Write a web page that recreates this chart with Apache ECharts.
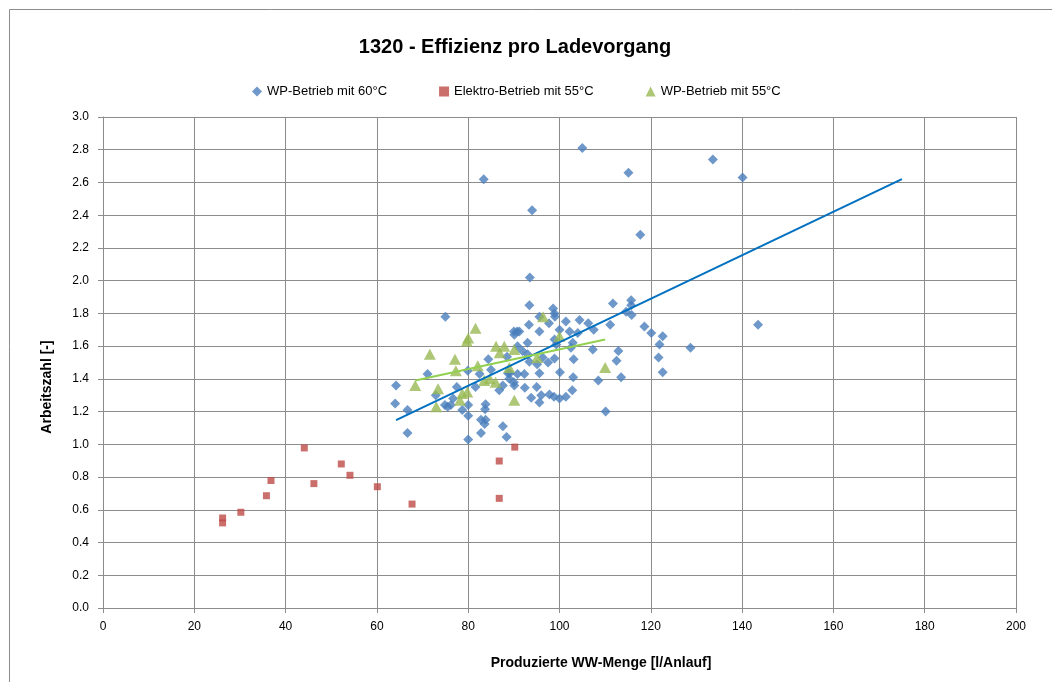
<!DOCTYPE html>
<html>
<head>
<meta charset="utf-8">
<script src="https://cdn.jsdelivr.net/npm/echarts@6/dist/echarts.min.js"></script>
<style>
  html, body { margin: 0; padding: 0; background: #fff; }
  #chart { width: 1052px; height: 682px; }
</style>
</head>
<body>
<div id="chart"></div>
<script>
// WP-Betrieb mit 60°C
const wp60X = [83.4, 105.0, 94.0, 115.1, 133.6, 140.1, 117.7, 93.5, 75.0, 143.5,
  128.7, 93.4, 98.6, 98.9, 99.0, 111.7, 115.7, 115.7, 114.6, 115.8,
  118.6, 120.1, 122.6, 121.9, 121.7, 122.6, 113.5, 112.5, 112.9, 111.1,
  110.1, 108.5, 107.3, 107.5, 106.3, 104.4, 104.0, 101.4, 102.2, 100.0,
  97.7, 95.6, 93.3, 95.6, 90.0, 90.7, 91.2, 90.1, 102.9, 102.5,
  99.3, 98.9, 93.0, 90.8, 91.9, 93.0, 88.5, 84.4, 96.3, 98.9,
  97.5, 95.1, 93.4, 103.1, 85.0, 88.7, 90.8, 92.3, 95.6, 100.1,
  103.0, 102.8, 101.4, 100.0, 98.8, 97.8, 96.0, 95.6, 93.8, 95.0,
  92.4, 90.1, 90.0, 87.6, 86.8, 81.6, 77.5, 79.9, 82.5, 71.1,
  64.2, 64.0, 66.7, 66.7, 72.9, 74.9, 75.5, 76.2, 76.7, 78.7,
  80.0, 80.0, 80.0, 83.8, 83.7, 82.8, 83.8, 83.6, 82.8, 87.6,
  88.4, 89.1, 89.0];
const wp60Y = [2.62, 2.81, 2.43, 2.66, 2.74, 2.63, 2.28, 2.02, 1.78, 1.73,
  1.59, 1.85, 1.83, 1.80, 1.78, 1.86, 1.88, 1.85, 1.81, 1.79,
  1.72, 1.68, 1.66, 1.61, 1.53, 1.44, 1.41, 1.51, 1.57, 1.73,
  1.20, 1.39, 1.58, 1.70, 1.74, 1.76, 1.68, 1.75, 1.69, 1.70,
  1.74, 1.78, 1.73, 1.69, 1.69, 1.69, 1.69, 1.67, 1.62, 1.59,
  1.61, 1.64, 1.62, 1.60, 1.57, 1.55, 1.535, 1.52, 1.53, 1.525,
  1.50, 1.49, 1.505, 1.52, 1.455, 1.435, 1.43, 1.43, 1.435, 1.44,
  1.41, 1.33, 1.29, 1.28, 1.29, 1.305, 1.30, 1.255, 1.285, 1.35,
  1.345, 1.36, 1.38, 1.36, 1.33, 1.35, 1.35, 1.45, 1.43, 1.43,
  1.36, 1.25, 1.21, 1.07, 1.30, 1.24, 1.23, 1.24, 1.28, 1.21,
  1.24, 1.175, 1.03, 1.245, 1.215, 1.15, 1.15, 1.125, 1.07, 1.11,
  1.045, 1.435, 1.40];

// Elektro-Betrieb mit 55°C
const el55X = [26.2, 26.2, 30.2, 35.8, 36.8, 44.1, 46.2, 52.2, 54.1, 60.1, 67.7, 86.8, 86.8, 90.2];
const el55Y = [0.55, 0.52, 0.585, 0.686, 0.779, 0.978, 0.760, 0.880, 0.811, 0.741, 0.635, 0.898, 0.670, 0.983];

// WP-Betrieb mit 55°C
const wp55X = [68.4, 71.6, 73.0, 73.4, 77.1, 77.3, 78.2, 78.7, 79.7, 79.8, 80.0, 81.6, 82.1,
  83.5, 84.7, 86.0, 86.1, 86.9, 87.9, 89.0, 90.1, 90.1, 95.1, 96.4, 100.0, 110.0];
const wp55Y = [1.36, 1.55, 1.23, 1.34, 1.52, 1.45, 1.27, 1.31, 1.63, 1.32, 1.65, 1.71, 1.48,
  1.39, 1.40, 1.38, 1.60, 1.56, 1.60, 1.47, 1.58, 1.27, 1.53, 1.78, 1.66, 1.47];

// linear trend lines (end points)
const trend60X = [64.2, 175];
const trend60Y = [1.148, 2.62];
const trend55X = [68.4, 110];
const trend55Y = [1.39, 1.64];

function pairs(xs, ys) {
  return xs.map((x, i) => [x, ys[i]]);
}

const font = "'Liberation Sans', Arial, sans-serif";
const gridColor = '#8c8c8c';

const chart = echarts.init(document.getElementById('chart'));
chart.setOption({
  animation: false,
  textStyle: { fontFamily: font },
  title: {
    text: '1320 - Effizienz pro Ladevorgang',
    left: 510,
    textAlign: 'center',
    top: 32,
    textStyle: { fontSize: 20, fontWeight: 'bold', color: '#000', fontFamily: font }
  },
  legend: {
    data: ['WP-Betrieb mit 60°C', 'Elektro-Betrieb mit 55°C', 'WP-Betrieb mit 55°C'],
    left: 247,
    top: 80,
    itemWidth: 10,
    itemHeight: 10,
    itemGap: 52,
    textStyle: { fontSize: 13, color: '#000', fontFamily: font }
  },
  graphic: [
    {
      type: 'rect',
      shape: { x: 9.5, y: 9.5, width: 1100, height: 700 },
      style: { fill: 'none', stroke: '#8c8c8c', lineWidth: 1 },
      silent: true
    },
    {
      type: 'text',
      x: 47,
      y: 387,
      rotation: Math.PI / 2,
      style: {
        text: 'Arbeitszahl [-]',
        fontSize: 14,
        fontWeight: 'bold',
        fontFamily: font,
        fill: '#000',
        align: 'center',
        verticalAlign: 'middle'
      }
    },
    {
      type: 'text',
      x: 601,
      y: 663,
      style: {
        text: 'Produzierte WW-Menge [l/Anlauf]',
        fontSize: 14,
        fontWeight: 'bold',
        fontFamily: font,
        fill: '#000',
        align: 'center',
        verticalAlign: 'middle'
      }
    }
  ],
  grid: {
    left: 103,
    right: 36,
    top: 117,
    bottom: 74
  },
  xAxis: {
    type: 'value',
    min: 0,
    max: 200,
    interval: 20,
    axisLine: { show: true, lineStyle: { color: gridColor } },
    axisTick: { show: true, length: 5, lineStyle: { color: gridColor } },
    axisLabel: { fontSize: 12, color: '#000', margin: 13 },
    splitLine: { show: true, lineStyle: { color: gridColor, width: 1 } }
  },
  yAxis: {
    type: 'value',
    min: 0,
    max: 3,
    interval: 0.2,
    axisLine: { show: true, lineStyle: { color: gridColor } },
    axisTick: { show: true, length: 5, lineStyle: { color: gridColor } },
    axisLabel: { fontSize: 12, color: '#000', margin: 14, formatter: v => v.toFixed(1) },
    splitLine: { show: true, lineStyle: { color: gridColor, width: 1 } }
  },
  series: [
    {
      name: 'WP-Betrieb mit 60°C',
      type: 'scatter',
      symbol: 'diamond',
      symbolSize: [10, 10],
      itemStyle: { color: '#4a7ebb' },
      data: pairs(wp60X, wp60Y),
      z: 2
    },
    {
      name: 'Elektro-Betrieb mit 55°C',
      type: 'scatter',
      symbol: 'rect',
      symbolSize: 7,
      itemStyle: { color: '#be4b48' },
      data: pairs(el55X, el55Y),
      z: 3
    },
    {
      name: 'WP-Betrieb mit 55°C',
      type: 'scatter',
      symbol: 'triangle',
      symbolSize: [12, 11],
      itemStyle: { color: '#98b954' },
      data: pairs(wp55X, wp55Y),
      z: 4
    },
    {
      name: 'Trend 60',
      type: 'line',
      showSymbol: false,
      symbol: 'none',
      lineStyle: { color: '#0070c0', width: 2 },
      data: pairs(trend60X, trend60Y),
      z: 5
    },
    {
      name: 'Trend 55',
      type: 'line',
      showSymbol: false,
      symbol: 'none',
      lineStyle: { color: '#92d050', width: 2 },
      data: pairs(trend55X, trend55Y),
      z: 5
    }
  ]
});
</script>
</body>
</html>
